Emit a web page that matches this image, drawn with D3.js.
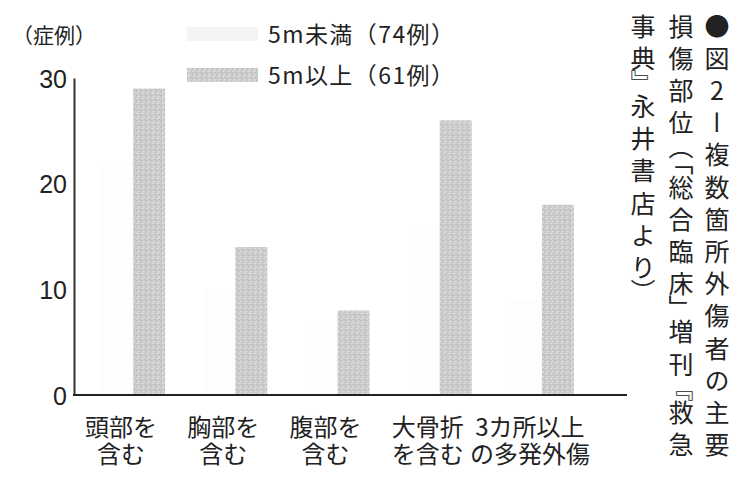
<!DOCTYPE html>
<html lang="ja">
<head>
<meta charset="UTF-8">
<title>複数箇所外傷者の主要損傷部位</title>
<script src="https://d3js.org/d3.v7.min.js"></script>
<style>
  body { margin: 0; background: #fff; }
  text { font-family: "Noto Sans CJK JP", "Noto Sans", sans-serif; fill: #222; }
  .vcap { writing-mode: vertical-rl; text-orientation: upright; }
</style>
</head>
<body>
<div id="chart"></div>
<script>
// data
const categories = ["頭部を含む", "胸部を含む", "腹部を含む", "大骨折を含む", "3カ所以上の多発外傷"];
const catLines = [["頭部を", "含む"], ["胸部を", "含む"], ["腹部を", "含む"], ["大骨折", "を含む"], ["3カ所以上", "の多発外傷"]];
const seriesNames = ["5m未満（74例）", "5m以上（61例）"];
const under5m = [22, 10, 7, 16, 9];   // almost invisible in the print, estimated
const over5m = [29, 14, 8, 26, 18];
const yTicks = [0, 10, 20, 30];

// caption columns (right to left); brackets take half a cell
const captionCols = ["●図2ー複数箇所外傷者の主要", "損傷部位（「総合臨床」増刊『救急", "事典』永井書店より）"];
const halfChars = "（「」『』）";

const W = 748, H = 493;
const svg = d3.select("#chart").append("svg")
  .attr("width", W).attr("height", H)
  .style("background", "#fff");

// stipple texture for the grey bars
const defs = svg.append("defs");
const pat = defs.append("pattern")
  .attr("id", "stipple")
  .attr("patternUnits", "userSpaceOnUse")
  .attr("width", 5).attr("height", 5);
pat.append("rect").attr("width", 5).attr("height", 5).attr("fill", "#cdcdcd");
[[0,0,"#b0b0b0"],[2,1,"#e4e4e4"],[4,2,"#b8b8b8"],[1,3,"#eaeaea"],[3,4,"#b4b4b4"],[3,2,"#dcdcdc"]].forEach(p => {
  pat.append("rect").attr("x", p[0]).attr("y", p[1]).attr("width", 1).attr("height", 1).attr("fill", p[2]);
});

const x0 = d3.scaleBand().domain(categories).range([82, 593]).paddingInner(0.374).paddingOuter(0.187);
const x1 = d3.scaleBand().domain([0, 1]).range([0, x0.bandwidth()]);
const y = d3.scaleLinear().domain([0, 30]).range([395, 78]);

const colors = ["#fdfdfd", "url(#stipple)"];
const table = categories.map((c, i) => ({cat: c, vals: [under5m[i], over5m[i]]}));

// bars
svg.append("g").selectAll("g")
  .data(table)
  .join("g")
    .attr("transform", d => `translate(${x0(d.cat)},0)`)
  .selectAll("rect")
  .data(d => d.vals.map((v, k) => ({k, v})))
  .join("rect")
    .attr("x", d => x1(d.k))
    .attr("y", d => y(d.v))
    .attr("width", x1.bandwidth())
    .attr("height", d => y(0) - y(d.v))
    .attr("fill", d => colors[d.k]);

// y axis
const yAxis = svg.append("g")
  .attr("transform", "translate(74,0)")
  .call(d3.axisLeft(y).tickValues(yTicks).tickSize(0).tickSizeOuter(0).tickPadding(7));
yAxis.select(".domain").attr("stroke", "#333").attr("stroke-width", 2);
yAxis.selectAll("text")
  .style("font-family", "'Liberation Sans', Arial, sans-serif")
  .style("font-size", "25px").attr("fill", "#222").attr("dy", "0.36em");

// baseline
svg.append("line")
  .attr("x1", 73).attr("x2", 627)
  .attr("y1", y(0)).attr("y2", y(0))
  .attr("stroke", "#222").attr("stroke-width", 2);

// unit label
svg.append("text")
  .attr("x", 12).attr("y", 43)
  .style("font-size", "21px")
  .text("（症例）");

// category labels
const catG = svg.append("g").selectAll("text")
  .data(categories)
  .join("text")
    .attr("text-anchor", "middle")
    .style("font-size", "24px")
    .attr("transform", d => `translate(${x0(d) + x0.bandwidth() / 2 - 12},0)`);
catG.selectAll("tspan")
  .data((d, i) => catLines[i])
  .join("tspan")
    .attr("x", 0)
    .attr("y", (d, j) => 436 + j * 27)
    .text(d => d);

// legend
const leg = svg.append("g").selectAll("g")
  .data(seriesNames)
  .join("g")
    .attr("transform", (d, i) => `translate(187,${27 + i * 41})`);
leg.append("rect")
  .attr("width", 71).attr("height", 14)
  .attr("fill", (d, i) => i === 0 ? "#f4f4f4" : "url(#stipple)");
leg.append("text")
  .attr("x", 81).attr("y", 16)
  .style("font-size", "23px")
  .attr("textLength", 186)
  .attr("lengthAdjust", "spacing")
  .text(d => d);

// vertical caption, one text per column, each char placed along the column
const colX = [717, 681, 643];
const step = 32.2, top0 = 26;
captionCols.forEach((col, ci) => {
  const chars = Array.from(col);
  let pos = 0, prev = 0;
  const ys = chars.map((c, i) => {
    const u = halfChars.includes(c) ? 0.5 : 1;
    if (i > 0) pos += prev / 2 + u / 2;
    prev = u;
    return (top0 + pos * step).toFixed(1);
  });
  svg.append("text")
    .attr("class", "vcap")
    .attr("x", colX[ci])
    .attr("y", ys.join(" "))
    .attr("text-anchor", "middle")
    .style("font-size", "25px")
    .attr("fill", "#1a1a1a")
    .text(col);
});
</script>
</body>
</html>
